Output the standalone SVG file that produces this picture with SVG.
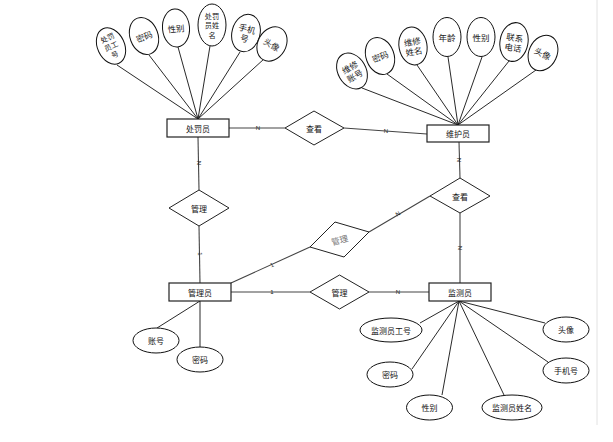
<svg xmlns="http://www.w3.org/2000/svg" width="613" height="442" viewBox="0 0 613 442">
<style>
.ent{fill:#fff;stroke:#222;stroke-width:1.2}
.rel{fill:#fff;stroke:#222;stroke-width:1}
.att{fill:#fff;stroke:#111;stroke-width:1}
.t{font-family:"Noto Sans CJK SC","Noto Sans",sans-serif;font-size:8px;fill:#111;text-anchor:middle;dominant-baseline:central}
.ta{font-family:"Noto Sans CJK SC","Noto Sans",sans-serif;font-size:8.5px;fill:#222;text-anchor:middle;dominant-baseline:central}
.ts{font-family:"Noto Sans CJK SC","Noto Sans",sans-serif;font-size:7.2px;fill:#222;text-anchor:middle;dominant-baseline:central}
.c{font-family:"Liberation Sans",sans-serif;font-size:6px;fill:#222;text-anchor:middle;dominant-baseline:central}
.ln{stroke:#111;stroke-width:0.9;fill:none}
.rl{stroke:#444;stroke-width:1.1;fill:none}
</style>
<rect width="613" height="442" fill="#fff"/>
<line x1="597" y1="0" x2="597" y2="425" stroke="#e2e2e2" stroke-width="1"/>
<g id="connectors">
<line class="ln" x1="117" y1="65" x2="198" y2="119"/>
<line class="ln" x1="149" y1="55" x2="198" y2="119"/>
<line class="ln" x1="178" y1="47" x2="198" y2="119"/>
<line class="ln" x1="210" y1="46" x2="198" y2="119"/>
<line class="ln" x1="240" y1="52" x2="198" y2="119"/>
<line class="ln" x1="264" y1="59" x2="198" y2="119"/>
<line class="ln" x1="362" y1="88" x2="458" y2="125"/>
<line class="ln" x1="387" y1="74" x2="458" y2="125"/>
<line class="ln" x1="417" y1="65" x2="458" y2="125"/>
<line class="ln" x1="448" y1="57" x2="458" y2="125"/>
<line class="ln" x1="482" y1="57" x2="458" y2="125"/>
<line class="ln" x1="509" y1="61" x2="458" y2="125"/>
<line class="ln" x1="536" y1="70" x2="458" y2="125"/>
<line class="ln" x1="157" y1="328" x2="200" y2="301"/>
<line class="ln" x1="200" y1="301" x2="200" y2="347"/>
<line class="ln" x1="420" y1="323" x2="459" y2="301"/>
<line class="ln" x1="412" y1="369" x2="459" y2="301"/>
<line class="ln" x1="442" y1="395" x2="459" y2="301"/>
<line class="ln" x1="504" y1="395" x2="459" y2="301"/>
<line class="ln" x1="548" y1="362" x2="459" y2="301"/>
<line class="ln" x1="545" y1="323" x2="459" y2="301"/>
<line class="rl" x1="229" y1="128" x2="285" y2="128"/>
<line class="rl" x1="344" y1="128" x2="427" y2="134"/>
<line class="rl" x1="198" y1="137" x2="199" y2="190"/>
<line class="rl" x1="199" y1="226" x2="200" y2="283"/>
<line class="rl" x1="459" y1="142" x2="460" y2="178"/>
<line class="rl" x1="460" y1="213" x2="460" y2="283"/>
<line class="rl" x1="231" y1="292" x2="310" y2="292"/>
<line class="rl" x1="369" y1="292" x2="429" y2="292"/>
<line class="rl" x1="231" y1="283" x2="310" y2="247"/>
<line class="rl" x1="369" y1="232" x2="430" y2="196"/>
<text class="c" x="258" y="128">N</text>
<text class="c" x="386" y="131">N</text>
<text class="c" transform="translate(199,163) rotate(90)">N</text>
<text class="c" transform="translate(200,254) rotate(90)">1</text>
<text class="c" transform="translate(459,160) rotate(90)">N</text>
<text class="c" transform="translate(460,248) rotate(90)">N</text>
<text class="c" x="272" y="292">1</text>
<text class="c" x="398" y="292">N</text>
<text class="c" transform="translate(272,265) rotate(-25)">1</text>
<text class="c" transform="translate(398,214) rotate(-30)">N</text>
</g>
<g id="chufayuan"><rect class="ent" x="167" y="119" width="62" height="18"/><text class="t" x="198" y="128">处罚员</text></g>
<g id="weihuyuan"><rect class="ent" x="427" y="125" width="62" height="17"/><text class="t" x="458" y="133.5">维护员</text></g>
<g id="guanliyuan"><rect class="ent" x="169" y="283" width="62" height="18"/><text class="t" x="200" y="292">管理员</text></g>
<g id="jianceyuan"><rect class="ent" x="429" y="283" width="62" height="18"/><text class="t" x="460" y="292">监测员</text></g>
<g id="chakan1"><polygon class="rel" points="285,128 314,111 344,128 314,145"/><text class="t" x="314" y="128">查看</text></g>
<g id="chakan2"><polygon class="rel" points="430,196 460,178 490,196 460,213"/><text class="t" x="460" y="196">查看</text></g>
<g id="guanli1"><polygon class="rel" points="169,208 199,190 229,208 199,226"/><text class="t" x="199" y="208">管理</text></g>
<g id="guanli2"><polygon class="rel" points="310,292 339.5,275 369,292 339.5,309"/><text class="t" x="339.5" y="292">管理</text></g>
<g id="guanli3"><polygon class="rel" points="310,247 335,222 369,232 344,257"/><text class="t" style="fill:#777;font-size:8.5px" transform="translate(339.5,239.5) rotate(-15)">管理</text></g>
<g id="a1" transform="translate(111,46) rotate(-25)"><ellipse class="att" rx="13.5" ry="19"/><text class="ts" y="-9">处罚</text><text class="ts" y="0">员工</text><text class="ts" y="9">号</text></g>
<g id="a2" transform="translate(144,36) rotate(-20)"><ellipse class="att" rx="14" ry="19"/><text class="ta">密码</text></g>
<g id="a3" transform="translate(176,28) rotate(-5)"><ellipse class="att" rx="13.5" ry="19"/><text class="ta">性别</text></g>
<g id="a4" transform="translate(212,25)"><ellipse class="att" rx="14" ry="21"/><text class="ts" y="-9.5">处罚</text><text class="ts" y="0">员姓</text><text class="ts" y="9.5">名</text></g>
<g id="a5" transform="translate(246,33) rotate(15)"><ellipse class="att" rx="14" ry="19"/><text class="ta" y="-5">手机</text><text class="ta" y="5">号</text></g>
<g id="a6" transform="translate(272,44) rotate(30)"><ellipse class="att" rx="14" ry="18"/><text class="ta">头像</text></g>
<g id="b1" transform="translate(352,71) rotate(-30)"><ellipse class="att" rx="14" ry="19"/><text class="ta" y="-5">维修</text><text class="ta" y="5">账号</text></g>
<g id="b2" transform="translate(380,56) rotate(-20)"><ellipse class="att" rx="14" ry="19"/><text class="ta">密码</text></g>
<g id="b3" transform="translate(413,46) rotate(-10)"><ellipse class="att" rx="14" ry="19"/><text class="ta" y="-5">维修</text><text class="ta" y="5">姓名</text></g>
<g id="b4" transform="translate(447,37)"><ellipse class="att" rx="14" ry="19.5"/><text class="ta">年龄</text></g>
<g id="b5" transform="translate(481,37)"><ellipse class="att" rx="14" ry="19.5"/><text class="ta">性别</text></g>
<g id="b6" transform="translate(514,42) rotate(10)"><ellipse class="att" rx="14" ry="19.5"/><text class="ta" y="-5">联系</text><text class="ta" y="5">电话</text></g>
<g id="b7" transform="translate(543,53) rotate(25)"><ellipse class="att" rx="14" ry="18.5"/><text class="ta">头像</text></g>
<g id="c1"><ellipse class="att" cx="156" cy="340.5" rx="23" ry="12.5"/><text class="t" x="156" y="340.5">账号</text></g>
<g id="c2"><ellipse class="att" cx="200" cy="359.5" rx="23" ry="12.5"/><text class="t" x="200" y="359.5">密码</text></g>
<g id="d1"><ellipse class="att" cx="391" cy="330" rx="31" ry="12"/><text class="t" x="391" y="330">监测员工号</text></g>
<g id="d2"><ellipse class="att" cx="390" cy="374.5" rx="23" ry="12.5"/><text class="t" x="390" y="374.5">密码</text></g>
<g id="d3"><ellipse class="att" cx="429.5" cy="407.5" rx="23" ry="12.5"/><text class="t" x="429.5" y="407.5">性别</text></g>
<g id="d4"><ellipse class="att" cx="512" cy="407.5" rx="30" ry="12.5"/><text class="t" x="512" y="407.5">监测员姓名</text></g>
<g id="d5"><ellipse class="att" cx="566" cy="370.5" rx="23" ry="12.5"/><text class="t" x="566" y="370.5">手机号</text></g>
<g id="d6"><ellipse class="att" cx="566" cy="329.5" rx="23" ry="12.5"/><text class="t" x="566" y="329.5">头像</text></g>
</svg>
